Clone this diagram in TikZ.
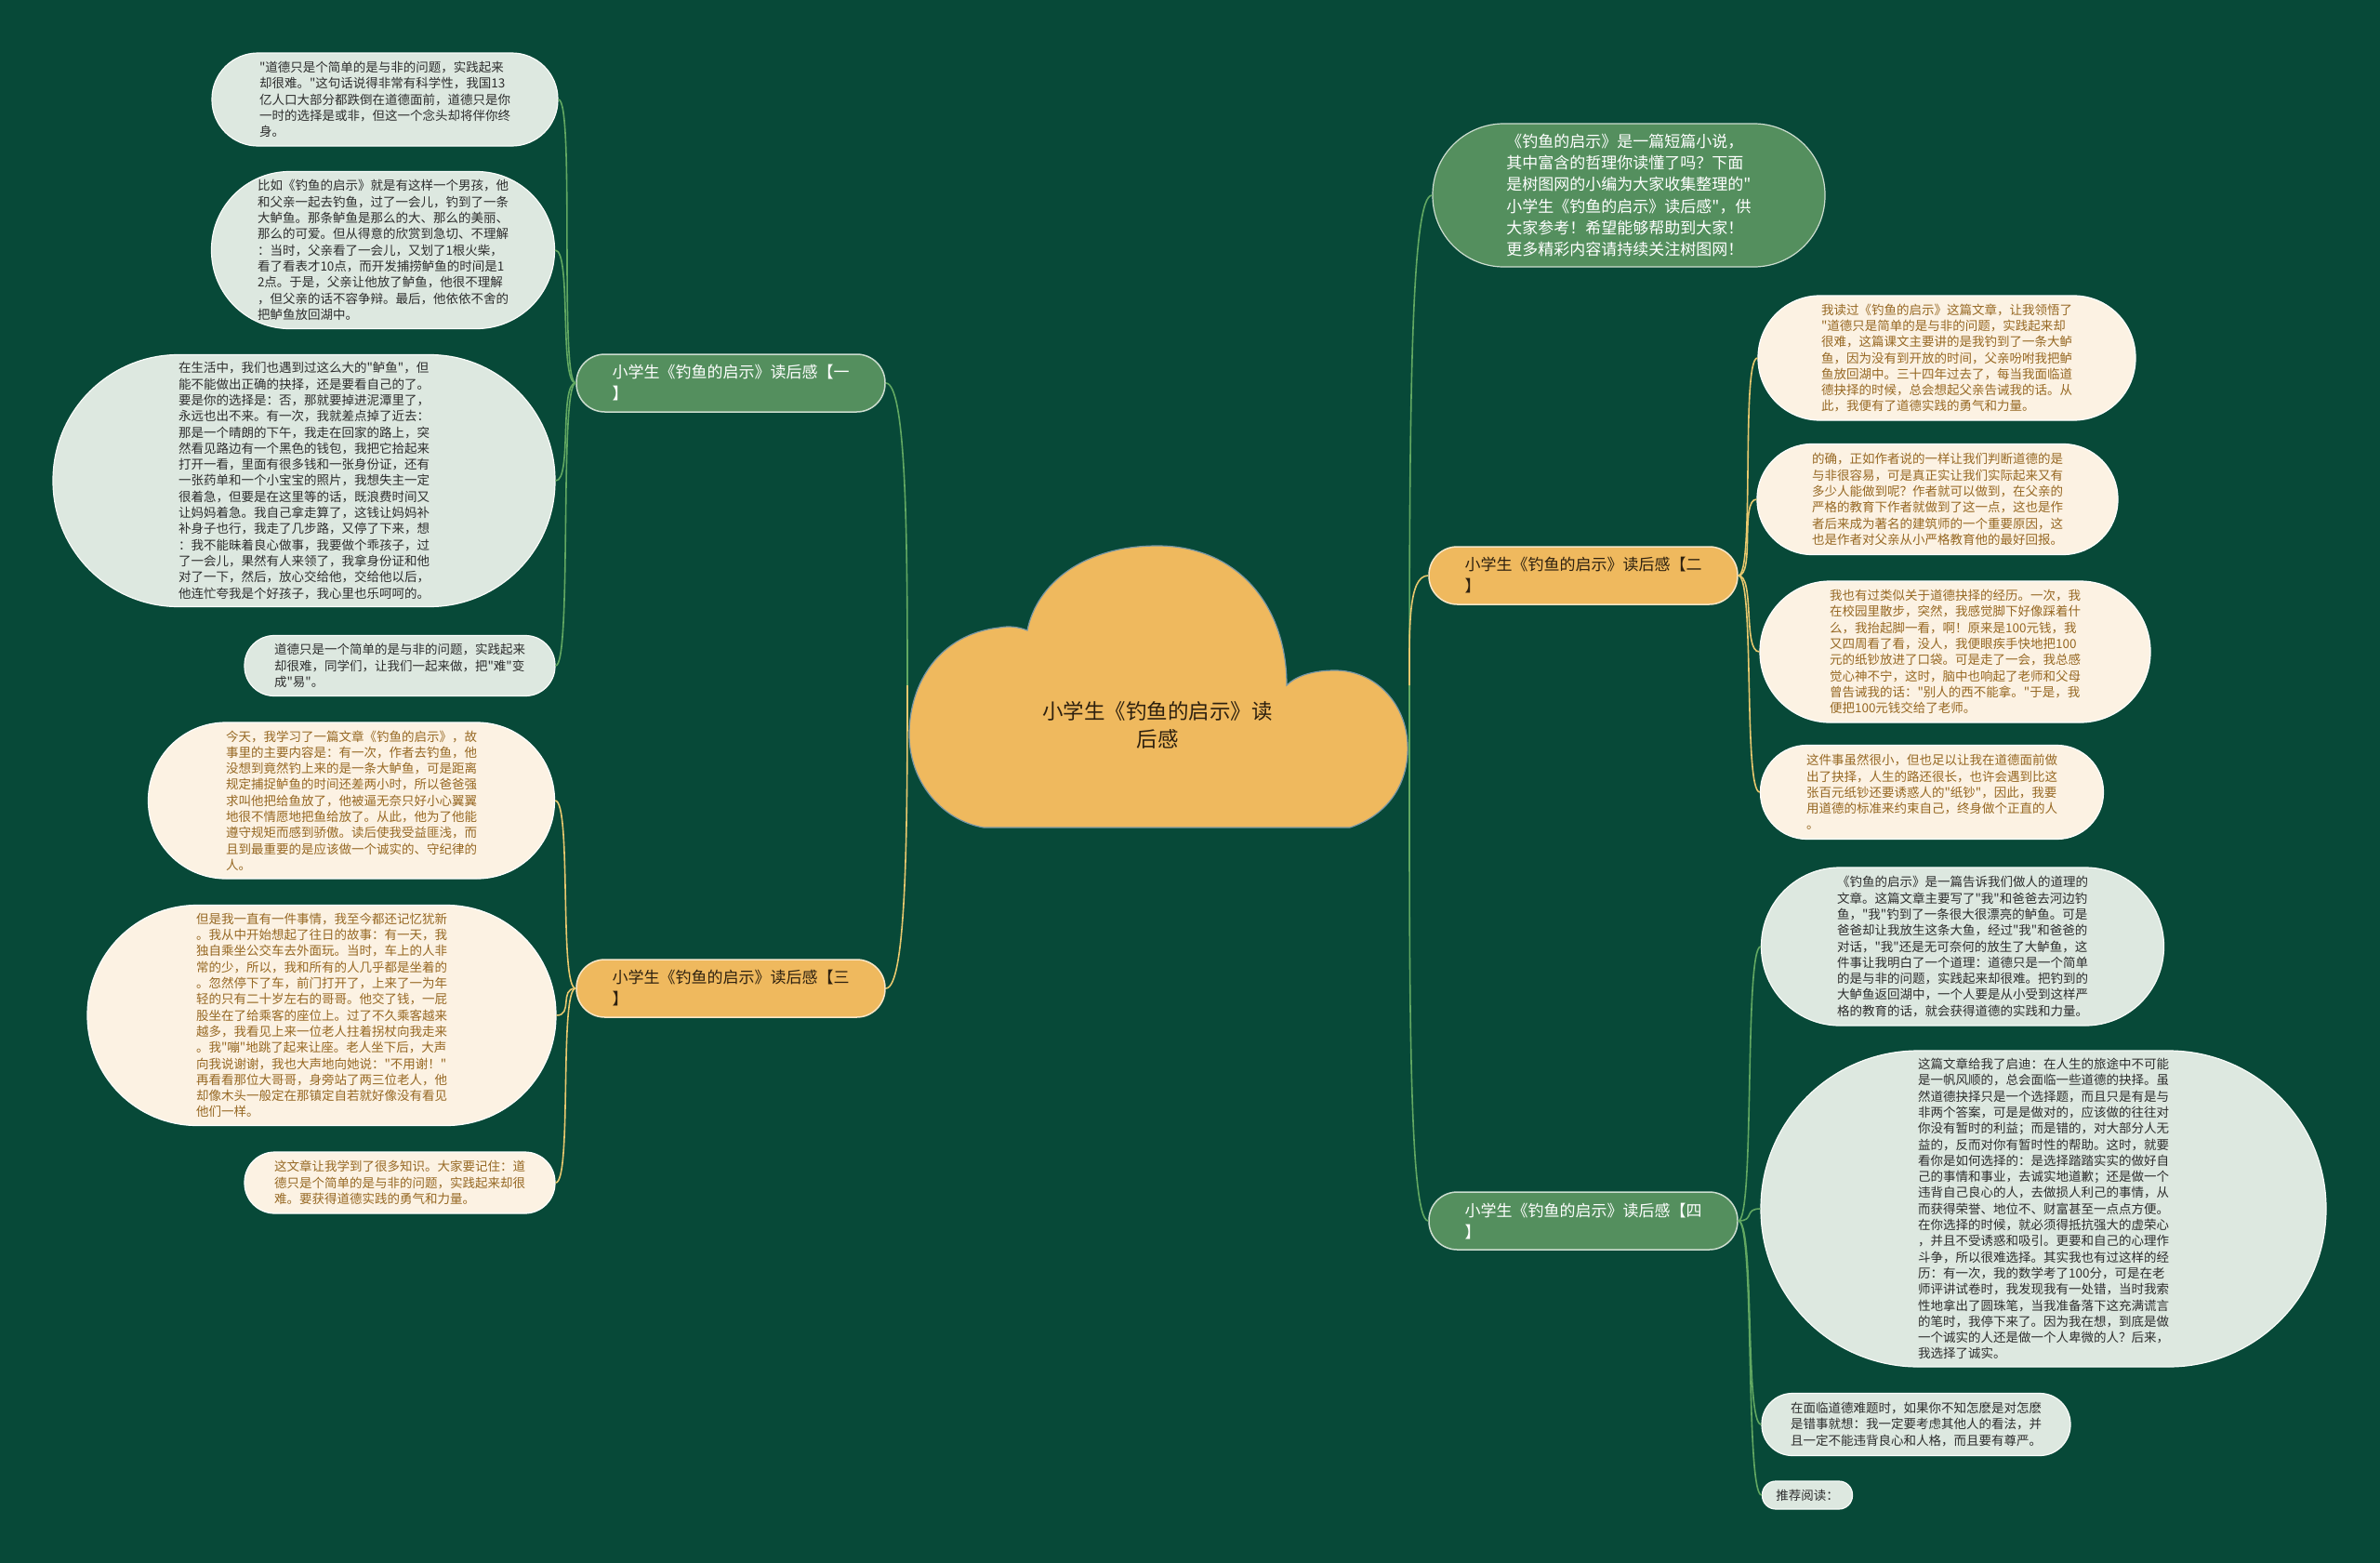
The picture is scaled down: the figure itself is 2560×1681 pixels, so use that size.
\documentclass[tikz,border=0pt]{standalone}
\usepackage{fontspec}
\setmainfont{Noto Sans CJK SC}[Ligatures=TeXOff]
\usepackage{tikz}

\definecolor{bgteal}{RGB}{7,73,56}
\definecolor{topicorange}{RGB}{239,185,94}
\definecolor{mossgreen}{RGB}{84,143,94}
\definecolor{mintleaf}{RGB}{221,232,224}
\definecolor{creamleaf}{RGB}{252,242,227}
\definecolor{creamtext}{RGB}{150,104,35}
\definecolor{inktext}{RGB}{45,45,45}
\definecolor{darkink}{RGB}{45,32,15}
\definecolor{linkgreen}{RGB}{98,168,98}
\definecolor{linkyellow}{RGB}{232,200,110}
\definecolor{cloudrim}{RGB}{120,150,165}

\newcommand{\leaffont}{\fontsize{13.5}{17.3}\selectfont}
\newcommand{\branchfont}{\fontsize{17}{23}\selectfont}
\newcommand{\topicfont}{\fontsize{22.5}{30}\selectfont}

\begin{document}
\begin{tikzpicture}[x=1pt, y=-1pt,
        pill/.style 2 args={minimum width=#1, minimum height=#2, rounded corners=#2/2-0.5, inner sep=0pt, align=left, line width=1.2pt},
        mint/.style={fill=mintleaf, draw=white!85!mintleaf, text=inktext, font=\leaffont},
        cream/.style={fill=creamleaf, draw=white, text=creamtext, font=\leaffont},
        branch/.style={pill={332}{62}, font=\branchfont, line width=1.5pt},
        bgreen/.style={branch, fill=mossgreen, draw=white!70!mossgreen, text=white},
        borange/.style={branch, fill=topicorange, draw=white!65!topicorange, text=darkink},
        link/.style={line width=1.6pt}]

                \fill[bgteal] (0,0) rectangle (2560,1681);

                \draw[fill=topicorange, draw=cloudrim, line width=1.2pt]
                    (1058,890) -- (1452,890)
                    .. controls (1495,876) and (1516,840) .. (1514,800)
                    .. controls (1512,755) and (1478,721) .. (1436,721)
                    .. controls (1412,721) and (1394,727) .. (1384,737)
                    .. controls (1384,650) and (1330,587) .. (1245,587)
                    .. controls (1165,587) and (1115,628) .. (1105,678)
                    .. controls (1095,674) and (1085,673) .. (1075,675)
                    .. controls (1010,682) and (978,735) .. (978,790)
                    .. controls (978,840) and (1012,882) .. (1058,890) -- cycle;
                \node[font=\topicfont, text=darkink, align=center] (topic) at (1245,780) {小学生《钓鱼的启示》读\\后感};
                \coordinate (cL) at (976,737);
                \coordinate (cR) at (1516,737);

                \node[bgreen] (b1) at (786,412) {小学生《钓鱼的启示》读后感【一\\】};
                \node[borange] (b3) at (786,1063) {小学生《钓鱼的启示》读后感【三\\】};
                \node[borange] (b2) at (1703,619) {小学生《钓鱼的启示》读后感【二\\】};
                \node[bgreen] (b4) at (1703,1313) {小学生《钓鱼的启示》读后感【四\\】};

                \node[pill={422}{154}, fill=mossgreen, draw=white!70!mossgreen, text=white, font=\fontsize{17}{23.3}\selectfont] (intro) at (1752,210) {《钓鱼的启示》是一篇短篇小说，\\其中富含的哲理你读懂了吗？下面\\是树图网的小编为大家收集整理的"\\小学生《钓鱼的启示》读后感"，供\\大家参考！希望能够帮助到大家！\\更多精彩内容请持续关注树图网！};

                \node[mint, pill={372}{100}] (l1) at (414,107) {"道德只是个简单的是与非的问题，实践起来\\却很难。"这句话说得非常有科学性，我国13\\亿人口大部分都跌倒在道德面前，道德只是你\\一时的选择是或非，但这一个念头却将伴你终\\身。};
                \node[mint, pill={369}{169}] (l2) at (412,269) {比如《钓鱼的启示》就是有这样一个男孩，他\\和父亲一起去钓鱼，过了一会儿，钓到了一条\\大鲈鱼。那条鲈鱼是那么的大、那么的美丽、\\那么的可爱。但从得意的欣赏到急切、不理解\\：当时，父亲看了一会儿，又划了1根火柴，\\看了看表才10点，而开发捕捞鲈鱼的时间是1\\2点。于是，父亲让他放了鲈鱼，他很不理解\\，但父亲的话不容争辩。最后，他依依不舍的\\把鲈鱼放回湖中。};
                \node[mint, pill={540}{271}] (l3) at (327,517) {在生活中，我们也遇到过这么大的"鲈鱼"，但\\能不能做出正确的抉择，还是要看自己的了。\\要是你的选择是：否，那就要掉进泥潭里了，\\永远也出不来。有一次，我就差点掉了近去：\\那是一个晴朗的下午，我走在回家的路上，突\\然看见路边有一个黑色的钱包，我把它拾起来\\打开一看，里面有很多钱和一张身份证，还有\\一张药单和一个小宝宝的照片，我想失主一定\\很着急，但要是在这里等的话，既浪费时间又\\让妈妈着急。我自己拿走算了，这钱让妈妈补\\补身子也行，我走了几步路，又停了下来，想\\：我不能昧着良心做事，我要做个乖孩子，过\\了一会儿，果然有人来领了，我拿身份证和他\\对了一下，然后，放心交给他，交给他以后，\\他连忙夸我是个好孩子，我心里也乐呵呵的。};
                \node[mint, pill={334}{65}] (l4) at (430,716) {道德只是一个简单的是与非的问题，实践起来\\却很难，同学们，让我们一起来做，把"难"变\\成"易"。};
                \node[cream, pill={437}{168}] (l5) at (378,861) {今天，我学习了一篇文章《钓鱼的启示》，故\\事里的主要内容是：有一次，作者去钓鱼，他\\没想到竟然钓上来的是一条大鲈鱼，可是距离\\规定捕捉鲈鱼的时间还差两小时，所以爸爸强\\求叫他把给鱼放了，他被逼无奈只好小心翼翼\\地很不情愿地把鱼给放了。从此，他为了他能\\遵守规矩而感到骄傲。读后使我受益匪浅，而\\且到最重要的是应该做一个诚实的、守纪律的\\人。};
                \node[cream, pill={504}{237}] (l6) at (346,1092) {但是我一直有一件事情，我至今都还记忆犹新\\。我从中开始想起了往日的故事：有一天，我\\独自乘坐公交车去外面玩。当时，车上的人非\\常的少，所以，我和所有的人几乎都是坐着的\\。忽然停下了车，前门打开了，上来了一为年\\轻的只有二十岁左右的哥哥。他交了钱，一屁\\股坐在了给乘客的座位上。过了不久乘客越来\\越多，我看见上来一位老人拄着拐杖向我走来\\。我"嘣"地跳了起来让座。老人坐下后，大声\\向我说谢谢，我也大声地向她说："不用谢！"\\再看看那位大哥哥，身旁站了两三位老人，他\\却像木头一般定在那镇定自若就好像没有看见\\他们一样。};
                \node[cream, pill={334}{66}] (l7) at (430,1272) {这文章让我学到了很多知识。大家要记住：道\\德只是个简单的是与非的问题，实践起来却很\\难。要获得道德实践的勇气和力量。};

                \node[cream, pill={406}{134}] (r1) at (2094,385) {我读过《钓鱼的启示》这篇文章，让我领悟了\\"道德只是简单的是与非的问题，实践起来却\\很难，这篇课文主要讲的是我钓到了一条大鲈\\鱼，因为没有到开放的时间，父亲吩咐我把鲈\\鱼放回湖中。三十四年过去了，每当我面临道\\德抉择的时候，总会想起父亲告诫我的话。从\\此，我便有了道德实践的勇气和力量。};
                \node[cream, pill={388}{119}] (r2) at (2084,537) {的确，正如作者说的一样让我们判断道德的是\\与非很容易，可是真正实让我们实际起来又有\\多少人能做到呢？作者就可以做到，在父亲的\\严格的教育下作者就做到了这一点，这也是作\\者后来成为著名的建筑师的一个重要原因，这\\也是作者对父亲从小严格教育他的最好回报。};
                \node[cream, pill={420}{152}] (r3) at (2103,701) {我也有过类似关于道德抉择的经历。一次，我\\在校园里散步，突然，我感觉脚下好像踩着什\\么，我抬起脚一看，啊！原来是100元钱，我\\又四周看了看，没人，我便眼疾手快地把100\\元的纸钞放进了口袋。可是走了一会，我总感\\觉心神不宁，这时，脑中也响起了老师和父母\\曾告诫我的话："别人的西不能拿。"于是，我\\便把100元钱交给了老师。};
                \node[cream, pill={369}{101}] (r4) at (2078,852) {这件事虽然很小，但也足以让我在道德面前做\\出了抉择，人生的路还很长，也许会遇到比这\\张百元纸钞还要诱惑人的"纸钞"，因此，我要\\用道德的标准来约束自己，终身做个正直的人\\。};

                \node[mint, pill={433}{170}] (r5) at (2111,1018) {《钓鱼的启示》是一篇告诉我们做人的道理的\\文章。这篇文章主要写了"我"和爸爸去河边钓\\鱼，"我"钓到了一条很大很漂亮的鲈鱼。可是\\爸爸却让我放生这条大鱼，经过"我"和爸爸的\\对话，"我"还是无可奈何的放生了大鲈鱼，这\\件事让我明白了一个道理：道德只是一个简单\\的是与非的问题，实践起来却很难。把钓到的\\大鲈鱼返回湖中，一个人要是从小受到这样严\\格的教育的话，就会获得道德的实践和力量。};
                \node[mint, pill={608}{340}] (r6) at (2198,1300) {这篇文章给我了启迪：在人生的旅途中不可能\\是一帆风顺的，总会面临一些道德的抉择。虽\\然道德抉择只是一个选择题，而且只是有是与\\非两个答案，可是是做对的，应该做的往往对\\你没有暂时的利益；而是错的，对大部分人无\\益的，反而对你有暂时性的帮助。这时，就要\\看你是如何选择的：是选择踏踏实实的做好自\\己的事情和事业，去诚实地道歉；还是做一个\\违背自己良心的人，去做损人利己的事情，从\\而获得荣誉、地位不、财富甚至一点点方便。\\在你选择的时候，就必须得抵抗强大的虚荣心\\，并且不受诱惑和吸引。更要和自己的心理作\\斗争，所以很难选择。其实我也有过这样的经\\历：有一次，我的数学考了100分，可是在老\\师评讲试卷时，我发现我有一处错，当时我索\\性地拿出了圆珠笔，当我准备落下这充满谎言\\的笔时，我停下来了。因为我在想，到底是做\\一个诚实的人还是做一个人卑微的人？后来，\\我选择了诚实。};
                \node[mint, pill={332}{67}] (r7) at (2061,1532) {在面临道德难题时，如果你不知怎麽是对怎麽\\是错事就想：我一定要考虑其他人的看法，并\\且一定不能违背良心和人格，而且要有尊严。};
                \node[mint, pill={97}{30}] (r8) at (1944,1608) {推荐阅读：};

                \begin{scope}[link, linkgreen]
                    \draw (b1.east) .. controls +(22,0) and +(0,-160) .. (cL);
                    \draw (cR) .. controls +(0,300) and +(-22,0) .. (b4.west);
                    \draw (cR) .. controls +(0,-320) and +(-22,0) .. (intro.west);
                    \foreach \n in {l1,l2,l3,l4}
                        \draw (b1.west) .. controls +(-18,0) and +(18,0) .. (\n.east);
                    \foreach \n in {r5,r6,r7,r8}
                        \draw (b4.east) .. controls +(18,0) and +(-18,0) .. (\n.west);
                \end{scope}

                \begin{scope}[link, linkyellow]
                    \draw (b3.east) .. controls +(22,0) and +(0,160) .. (cL);
                    \draw (cR) .. controls +(0,-60) and +(-22,0) .. (b2.west);
                    \foreach \n in {l5,l6,l7}
                        \draw (b3.west) .. controls +(-18,0) and +(18,0) .. (\n.east);
                    \foreach \n in {r1,r2,r3,r4}
                        \draw (b2.east) .. controls +(18,0) and +(-18,0) .. (\n.west);
                \end{scope}
            \end{tikzpicture}
\end{document}
